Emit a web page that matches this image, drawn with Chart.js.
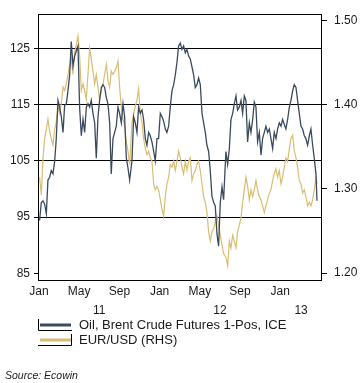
<!DOCTYPE html>
<html><head><meta charset="utf-8">
<script src="https://cdn.jsdelivr.net/npm/chart.js@4"></script>
<style>html,body{margin:0;padding:0;background:#fff;}canvas{display:block;}</style>
</head><body>
<canvas id="c" width="362" height="383"></canvas>
<script>
// months since 1 Jan 2011
const t = [0.06,0.23,0.40,0.56,0.73,0.89,1.06,1.22,1.39,1.56,1.72,1.89,2.05,2.22,2.39,2.55,2.72,2.88,3.05,3.21,3.38,3.55,3.71,3.88,4.04,4.21,4.38,4.54,4.71,4.87,5.04,5.20,5.37,5.54,5.70,5.87,6.03,6.20,6.37,6.53,6.70,6.86,7.03,7.19,7.36,7.53,7.69,7.86,8.02,8.19,8.36,8.52,8.69,8.85,9.02,
9.25,9.42,9.58,9.75,9.91,10.08,10.25,10.41,10.58,10.74,10.91,11.07,11.24,11.41,11.57,11.74,11.90,12.07,12.24,12.40,12.57,12.73,12.90,13.06,13.23,13.40,13.56,13.73,13.89,14.06,14.23,14.39,14.56,14.72,14.89,15.05,15.22,15.39,15.55,15.72,15.88,16.05,16.22,16.38,16.55,16.71,16.88,17.04,17.21,17.38,17.54,17.71,17.87,18.04,18.21,18.37,
18.60,18.77,18.94,19.10,19.27,19.43,19.60,19.76,19.93,20.10,20.26,20.43,20.59,20.76,20.93,21.09,21.26,21.42,21.59,21.75,21.92,22.09,22.25,22.42,22.58,22.75,22.92,23.08,23.25,23.41,23.58,23.74,23.91,24.08,24.24,24.41,24.57,24.74,24.91,25.07,25.24,25.40,25.57,25.73,25.90,26.07,26.23,26.40,26.56,26.73,26.90,27.06,27.23,27.39,27.56,27.66];

const brent = [94.4,97.6,97.9,97.3,95.6,101.6,102.1,103.3,102.7,105.0,109.0,115.8,114.6,112.9,110.1,114.9,115.2,117.5,120.3,126.3,122.0,123.7,124.6,125.5,114.6,109.5,112.4,110.1,114.6,115.2,114.6,115.8,113.5,111.8,105.5,112.9,115.8,118.1,118.6,118.1,116.3,115.2,111.8,102.7,109.0,110.1,111.2,114.6,113.5,111.8,115.2,112.9,105.5,103.8,101.6,
105.0,112.9,111.8,110.1,114.6,113.5,114.1,112.4,109.0,107.8,110.1,109.5,108.4,106.7,105.0,109.0,109.0,113.5,112.9,112.1,110.7,110.1,111.2,114.6,117.5,118.6,120.3,122.6,125.5,126.0,124.9,125.5,124.3,124.9,123.7,123.2,121.8,120.3,118.1,118.6,119.8,118.6,113.5,111.8,110.1,107.8,106.7,103.3,98.7,97.6,97.0,92.0,89.8,97.6,100.4,98.1,
106.7,104.4,107.2,112.4,113.5,115.2,116.6,114.1,114.6,115.8,113.5,116.6,115.8,108.4,111.8,110.1,112.4,115.5,114.6,108.4,110.1,106.1,109.0,110.1,111.2,110.1,110.7,109.0,107.2,110.1,109.0,110.7,111.8,111.2,112.4,111.5,110.7,112.4,114.6,115.8,117.5,118.6,118.1,115.8,113.5,111.2,110.7,109.5,109.0,107.8,109.5,110.7,107.8,105.5,102.7,97.9];

const eurusd = [1.314,1.293,1.337,1.360,1.371,1.383,1.368,1.360,1.352,1.371,1.379,1.398,1.390,1.402,1.421,1.417,1.425,1.436,1.448,1.455,1.436,1.463,1.471,1.482,1.459,1.417,1.425,1.417,1.406,1.436,1.467,1.455,1.440,1.425,1.436,1.421,1.406,1.417,1.425,1.436,1.448,1.429,1.421,1.440,1.436,1.440,1.444,1.452,1.421,1.398,1.383,1.375,1.356,1.345,1.329,
1.379,1.390,1.398,1.406,1.419,1.390,1.379,1.360,1.348,1.341,1.345,1.337,1.333,1.306,1.299,1.303,1.299,1.287,1.276,1.268,1.291,1.306,1.314,1.329,1.326,1.333,1.322,1.333,1.345,1.337,1.326,1.318,1.333,1.322,1.333,1.337,1.310,1.318,1.322,1.329,1.333,1.322,1.306,1.291,1.284,1.272,1.249,1.238,1.249,1.253,1.261,1.268,1.257,1.245,1.234,1.223,
1.219,1.209,1.238,1.230,1.245,1.238,1.230,1.249,1.257,1.265,1.284,1.299,1.314,1.303,1.287,1.299,1.291,1.299,1.310,1.299,1.291,1.287,1.280,1.272,1.280,1.287,1.295,1.299,1.310,1.318,1.324,1.314,1.322,1.306,1.314,1.326,1.337,1.333,1.348,1.360,1.364,1.345,1.337,1.326,1.310,1.306,1.295,1.299,1.291,1.280,1.284,1.280,1.287,1.299,1.314,1.306];

const monthTicks = [0,4,8,12,16,20,24];
const monthLabels = ['Jan','May','Sep','Jan','May','Sep','Jan'];
const yearTicks = [6,18,26.08];
const yearLabels = ['11','12','13'];
const leftTicks = [85,95,105,115,125];
const rightTicks = [1.20,1.30,1.40,1.50];
const seriesNames = ['Oil, Brent Crude Futures 1-Pos, ICE','EUR/USD (RHS)'];
const sourceText = 'Source: Ecowin';

const FONT = 'Arial, "Liberation Sans", sans-serif';
const OIL = '#3a4a5d';
const FX = '#d9bd72';
const TXT = '#1a1a1a';

const setTicks = vals => scale => { scale.ticks = vals.map(v => ({value: v})); };

const boxPlugin = {
  id: 'plotBox',
  afterDatasetsDraw(chart) {
    const {ctx, chartArea: a} = chart;
    ctx.save();
    ctx.strokeStyle = '#000';
    ctx.lineWidth = 1;
    const l = Math.round(a.left) - 0.5, r = Math.round(a.right) - 0.5;
    const tp = Math.round(a.top) + 0.5, b = Math.round(a.bottom) + 0.5;
    ctx.strokeRect(l, tp, r - l, b - tp);
    ctx.restore();
  }
};

const legendPlugin = {
  id: 'customLegend',
  afterDraw(chart) {
    const ctx = chart.ctx;
    const ds = chart.data.datasets;
    const rows = [325, 340];
    ctx.save();
    ds.forEach((d, i) => {
      const y = rows[i];
      ctx.strokeStyle = d.borderColor;
      ctx.lineWidth = 3;
      ctx.beginPath();
      ctx.moveTo(40, y); ctx.lineTo(71, y);
      ctx.stroke();
      ctx.fillStyle = TXT;
      ctx.font = '13px ' + FONT;
      ctx.textBaseline = 'middle';
      ctx.textAlign = 'left';
      ctx.fillText(d.label, 79, y);
    });
    ctx.strokeStyle = '#000';
    ctx.lineWidth = 1;
    ctx.beginPath();
    ctx.moveTo(38.5, 319); ctx.lineTo(38.5, 330.5); ctx.lineTo(72, 330.5);
    ctx.moveTo(38, 345.5); ctx.lineTo(71.5, 345.5); ctx.lineTo(71.5, 334);
    ctx.stroke();
    ctx.font = 'italic 10.5px ' + FONT;
    ctx.fillStyle = TXT;
    ctx.textBaseline = 'middle';
    ctx.fillText(sourceText, 5, 376);
    ctx.restore();
  }
};

const tickFont = {family: FONT, size: 12, lineHeight: 1.2};

new Chart(document.getElementById('c'), {
  type: 'line',
  data: {
    datasets: [
      {label: seriesNames[0], data: t.map((x, i) => ({x, y: brent[i]})), yAxisID: 'y',
       borderColor: OIL, borderWidth: 1.3, pointRadius: 0, tension: 0, fill: false},
      {label: seriesNames[1], data: t.map((x, i) => ({x, y: eurusd[i]})), yAxisID: 'y1',
       borderColor: FX, borderWidth: 1.2, pointRadius: 0, tension: 0, fill: false}
    ]
  },
  options: {
    responsive: false,
    animation: false,
    events: [],
    layout: {padding: {top: 8, bottom: 64, left: 0, right: 0}},
    plugins: {legend: {display: false}, tooltip: {enabled: false}, title: {display: false}},
    scales: {
      x: {
        type: 'linear', position: 'bottom', min: 0, max: 28.16, weight: 0,
        afterBuildTicks: setTicks(monthTicks),
        grid: {display: false, drawTicks: false}, border: {display: false},
        ticks: {autoSkip: false, maxRotation: 0, minRotation: 0, padding: 4, color: TXT, font: tickFont,
                callback: v => monthLabels[monthTicks.indexOf(v)]}
      },
      x2: {
        type: 'linear', axis: 'x', position: 'bottom', min: 0, max: 28.16, weight: 1,
        afterBuildTicks: setTicks(yearTicks),
        grid: {display: false, drawTicks: false}, border: {display: false},
        ticks: {autoSkip: false, maxRotation: 0, minRotation: 0, padding: 1, color: TXT, font: tickFont,
                callback: v => yearLabels[yearTicks.indexOf(v)]}
      },
      y: {
        type: 'linear', position: 'left', min: 83.75, max: 131.17,
        afterBuildTicks: setTicks(leftTicks),
        afterFit(s) { s.width = 39; },
        grid: {color: c => (c.tick && c.tick.value === 85) ? 'rgba(0,0,0,0)' : '#000',
               tickColor: '#000', tickLength: 5, lineWidth: 1},
        border: {display: false},
        ticks: {padding: 4, color: TXT, font: tickFont, callback: v => String(v)}
      },
      y1: {
        type: 'linear', position: 'right', min: 1.1916, max: 1.5077,
        afterBuildTicks: setTicks(rightTicks),
        afterFit(s) { s.width = 40; },
        grid: {drawOnChartArea: false, tickColor: '#000', tickLength: 5},
        border: {display: false},
        ticks: {padding: 7, color: TXT, font: tickFont, callback: v => v.toFixed(2)}
      }
    }
  },
  plugins: [boxPlugin, legendPlugin]
});
</script>
</body></html>
